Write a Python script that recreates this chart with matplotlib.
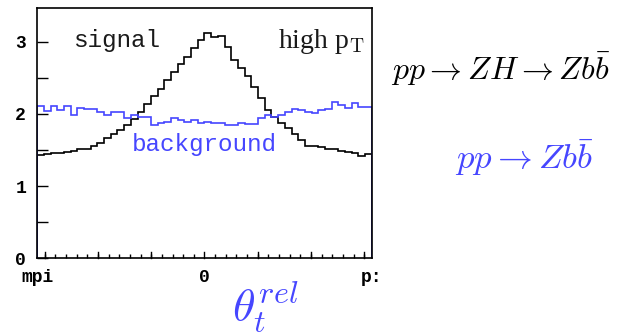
import numpy as np
import matplotlib
matplotlib.use("Agg")
import matplotlib.pyplot as plt
from matplotlib.ticker import MultipleLocator, FixedLocator

plt.rcParams['mathtext.fontset'] = 'cm'

signal = [1.43, 1.44, 1.46, 1.46, 1.47, 1.49, 1.51, 1.52, 1.55, 1.60,
          1.66, 1.72, 1.78, 1.85, 1.93, 2.03, 2.14, 2.25, 2.35, 2.47,
          2.58, 2.69, 2.79, 2.91, 3.03, 3.12, 3.07, 3.08, 2.93, 2.75,
          2.64, 2.52, 2.38, 2.22, 2.06, 1.96, 1.88, 1.80, 1.72, 1.64,
          1.56, 1.55, 1.54, 1.52, 1.51, 1.49, 1.47, 1.46, 1.42, 1.44]
background = [2.11, 2.04, 2.11, 2.06, 2.11, 1.99, 2.08, 2.07, 2.07, 2.03,
              1.99, 2.02, 2.03, 1.94, 1.99, 1.96, 1.96, 1.85, 1.87, 1.89,
              1.95, 1.92, 1.89, 1.91, 1.88, 1.89, 1.88, 1.87, 1.85, 1.84,
              1.88, 1.86, 1.86, 1.94, 1.99, 1.96, 1.99, 2.02, 2.07, 2.06,
              2.02, 2.01, 2.05, 2.07, 2.17, 2.12, 2.08, 2.15, 2.09, 2.09]
xtick_pos = [-np.pi, 0, np.pi]
xtick_labels = ["mpi", "0", "p:"]
ytick_pos = [0, 1, 2, 3]
ytick_labels = ["0", "1", "2", "3"]

blue = "#4646ff"
edges = np.linspace(-np.pi, np.pi, len(signal) + 1)

fig = plt.figure(figsize=(6.4, 3.33), dpi=100)
ax = fig.add_axes([0.058, 0.225, 0.523, 0.751])

ax.stairs(signal, edges, color="black", lw=1.2)
ax.stairs(background, edges, color=blue, lw=1.2)

ax.set_xlim(-np.pi, np.pi)
ax.set_ylim(0, 3.47)

mono = "Liberation Mono"
ax.xaxis.set_major_locator(FixedLocator(xtick_pos))
ax.set_xticklabels(xtick_labels, fontfamily=mono, fontsize=13, fontweight="bold")
ax.xaxis.set_minor_locator(MultipleLocator(0.2))
ax.yaxis.set_major_locator(FixedLocator(ytick_pos))
ax.set_yticklabels(ytick_labels, fontfamily=mono, fontsize=13, fontweight="bold")
ax.yaxis.set_minor_locator(MultipleLocator(0.5))

ax.tick_params(axis="x", which="major", direction="in", length=0, pad=8)
ax.tick_params(axis="x", which="minor", direction="in", length=3, width=1)
ax.tick_params(axis="y", which="both", direction="in", length=8, width=1, pad=8)
for s in ax.spines.values():
    s.set_linewidth(1.2)

# Major bottom ticks at integers
for v in [-3, -2, -1, 0, 1, 2, 3]:
    ax.plot([v, v], [0, 0.085], color="black", lw=1, clip_on=False)

ax.text(-1.65, 3.02, "signal", fontfamily=mono, fontsize=17.5, color="#1a1a1a",
        ha="center", va="center")
ax.text(2.2, 3.0, r"high p$_\mathrm{T}$", fontfamily="Liberation Serif", fontsize=20,
        color="#1a1a1a", ha="center", va="center")
ax.text(0.0, 1.58, "background", fontfamily=mono, fontsize=17.5, color=blue,
        ha="center", va="center")

fig.text(0.783, 0.79, r"$pp \to ZH \to Zb\bar{b}$", fontsize=23,
         color="black", ha="center", va="center")
fig.text(0.82, 0.525, r"$pp \to Zb\bar{b}$", fontsize=25,
         color=blue, ha="center", va="center")
fig.text(0.415, 0.078, r"$\theta_t^{rel}$", fontsize=33,
         color=blue, ha="center", va="center")

fig.savefig("out.png", dpi=100)
